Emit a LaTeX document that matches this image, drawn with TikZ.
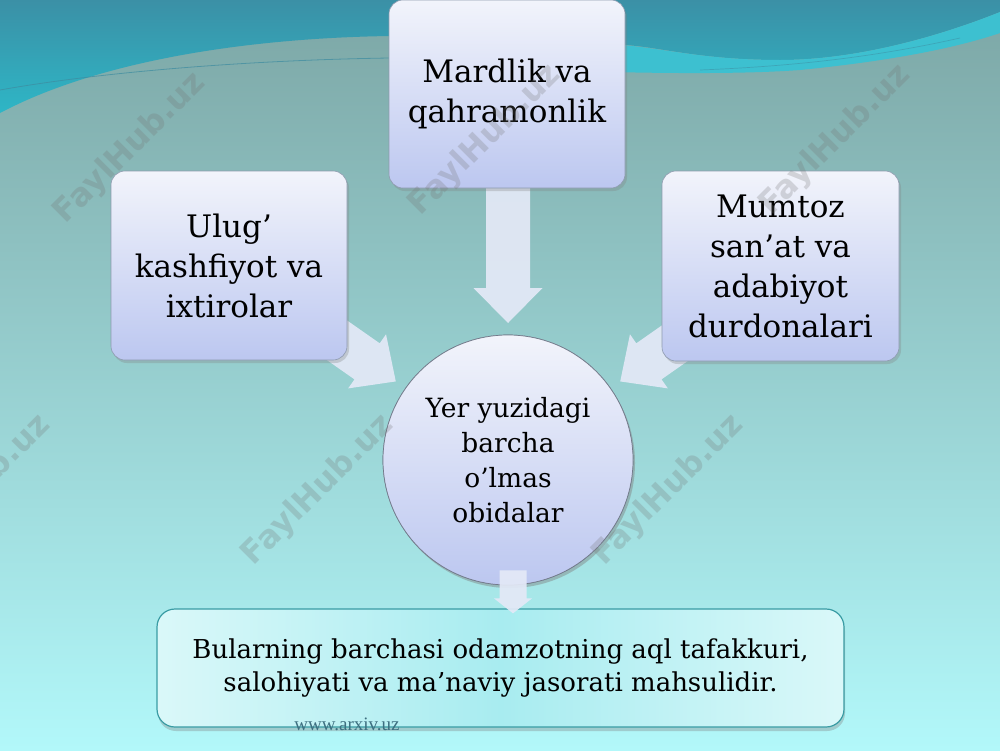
\documentclass[tikz,border=0pt]{standalone}
\usepackage{fontspec}
\setmainfont{DejaVu Serif}
\newfontfamily\wmfont{DejaVu Sans}
\newfontfamily\urlfont{Liberation Serif}
\usetikzlibrary{shadows,calc}
\definecolor{bgtop}{HTML}{7CA6A5}
\definecolor{bgmid}{HTML}{9BD4D0}
\definecolor{bgbot}{HTML}{B2F8FA}
\definecolor{wavetop}{HTML}{3B90A6}
\definecolor{wavebot}{HTML}{2EB6C6}
\definecolor{bandcyan}{HTML}{3DC0D0}
\definecolor{linecol}{HTML}{3E8CA0}
\definecolor{boxtop}{HTML}{F2F4FB}
\definecolor{boxbot}{HTML}{BCC7F0}
\definecolor{boxedge}{HTML}{8E9AAE}
\definecolor{arrowfill}{HTML}{E4E9F7}
\definecolor{botedge}{HTML}{3A9CA4}
\definecolor{botside}{HTML}{DAF8F9}
\definecolor{botmid}{HTML}{A8ECF0}
\definecolor{urlcol}{HTML}{3D6F80}
\newcommand\blkarrow[6]{%
  \begin{scope}[shift={(#1)}, rotate=#2]
    \fill[arrowfill, fill opacity=0.92] (0,0) -- (-#6,#5) -- (-#6,#4) -- (-#3,#4) -- (-#3,-#4) -- (-#6,-#4) -- (-#6,-#5) -- cycle;
  \end{scope}}
\begin{document}
\begin{tikzpicture}[x=1pt,y=-1pt,
  box/.style={rectangle, rounded corners=14pt, draw=boxedge, line width=0.6pt,
    top color=boxtop, bottom color=boxbot, minimum width=236pt, minimum height=188pt,
    align=center, font=\fontsize{31}{40}\selectfont, inner sep=0pt,
    drop shadow={opacity=0.3, shadow xshift=2pt, shadow yshift=-3pt}},
  circ/.style={circle, draw=boxedge!80!black, line width=0.7pt,
    top color=boxtop, bottom color=boxbot, minimum size=250pt, inner sep=0pt,
    align=center, font=\fontsize{26.5}{35}\selectfont,
    drop shadow={opacity=0.25, shadow xshift=2pt, shadow yshift=-3pt}},
  botbox/.style={rectangle, rounded corners=18pt, draw=botedge, line width=1.2pt,
    left color=botside, right color=botside, middle color=botmid,
    minimum width=687pt, minimum height=118pt, inner sep=0pt, align=center,
    font=\fontsize{26}{33}\selectfont,
    drop shadow={opacity=0.35, shadow xshift=1pt, shadow yshift=-4pt}},
  wm/.style={rotate=45, font=\wmfont\bfseries\fontsize{32}{32}\selectfont,
    text=black!55, text opacity=0.25},
  url/.style={font=\urlfont\fontsize{19}{19}\selectfont, text=urlcol}
]
\useasboundingbox (0,0) rectangle (1000,750);
% background
\shade[top color=bgtop, middle color=bgmid, bottom color=bgbot] (0,0) rectangle (1000,750);
\shade[top color=wavetop, bottom color=wavebot]
  (0,0) -- (1000,0) -- (1000,12)
  .. controls (930,40) and (850,60) .. (780,60)
  .. controls (700,60) and (660,47) .. (625,45)
  .. controls (550,38) and (470,34) .. (390,36)
  .. controls (250,38) and (100,60) .. (0,113) -- cycle;
\fill[bandcyan]
  (1000,12) .. controls (930,40) and (850,60) .. (780,60)
  .. controls (700,60) and (660,47) .. (610,44)
  -- (610,72) .. controls (700,74) and (760,73) .. (800,70)
  .. controls (880,62) and (950,50) .. (1000,33) -- cycle;
\draw[linecol, line width=0.8pt, opacity=0.7] (0,90) .. controls (100,72) and (250,60) .. (390,58);
\draw[linecol, line width=0.7pt, opacity=0.5] (700,70) .. controls (800,66) and (880,56) .. (960,38);

% central circle first (for anchors)
\node[circ] (mid) at (508,460) {Yer yuzidagi\\barcha\\o’lmas\\obidalar};
\coordinate (tipT) at ($(mid.center)+(90:137pt)$);
\coordinate (tipL) at ($(mid.center)+(145:137pt)$);
\coordinate (tipR) at ($(mid.center)+(35:137pt)$);
\coordinate (tipB) at ($(mid.south)+(5,28)$);

% block arrows (behind the boxes)
\blkarrow{tipT}{-90}{135}{22}{34.5}{35}
\blkarrow{tipL}{-35}{125}{22}{33}{35}
\blkarrow{tipR}{215}{125}{22}{33}{35}

% circle redrawn over arrows
\node[circ] (mid) at (508,460) {Yer yuzidagi\\barcha\\o’lmas\\obidalar};

\node[box] (top) at (507,94) {Mardlik va\\qahramonlik};
\node[box, minimum height=189pt] (left) at (229,265.5) {Ulug’\\kashfiyot va\\ixtirolar};
\node[box, minimum width=237pt, minimum height=190pt] (right) at (780.5,266) {Mumtoz\\san’at va\\adabiyot\\durdonalari};

\node[botbox] (bot) at (500.5,668) {Bularning barchasi odamzotning aql tafakkuri,\\salohiyati va ma’naviy jasorati mahsulidir.};
\blkarrow{tipB}{-90}{43}{13.5}{19}{15}

\node[url] (site) at (347,724) {www.arxiv.uz};

% watermarks
\node[wm] (wm1) at (130,148) {FaylHub.uz};
\node[wm] (wm2) at (485,140) {FaylHub.uz};
\node[wm] (wm3) at (835,140) {FaylHub.uz};
\node[wm] (wm4) at (-25,490) {FaylHub.uz};
\node[wm] (wm5) at (318,490) {FaylHub.uz};
\node[wm] (wm6) at (668,490) {FaylHub.uz};
\end{tikzpicture}
\end{document}
